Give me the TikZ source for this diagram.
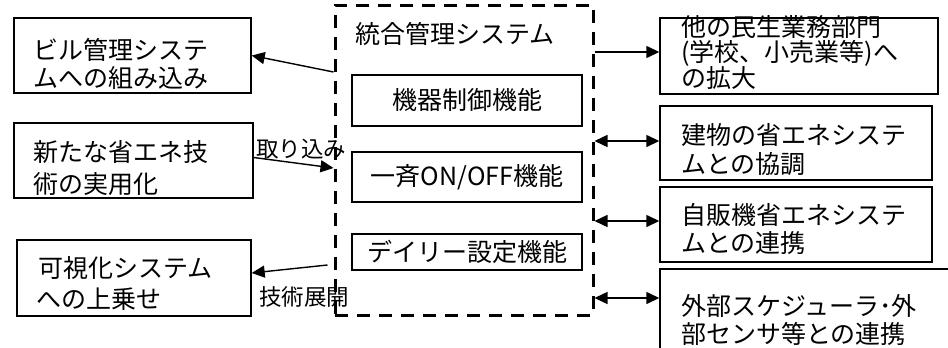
\documentclass[tikz,border=0pt]{standalone}
\usepackage{fontspec}
\setmainfont{Noto Sans CJK JP}
\usetikzlibrary{arrows.meta,calc}
\begin{document}
\begin{tikzpicture}[x=1pt,y=-1pt,
  box/.style={draw,line width=1.4pt,inner sep=0pt,font=\fontsize{25}{27}\selectfont},
  txt/.style={inner sep=0pt,anchor=base west,font=\fontsize{25}{27}\selectfont},
  lbl/.style={inner sep=0pt,anchor=base west,font=\fontsize{22.5}{24}\selectfont},
  sysbox/.style={draw,line width=3pt,dash pattern=on 13pt off 9pt,inner sep=0pt},
  arr/.style={line width=1.4pt,-{Triangle[length=13pt,width=12pt]}},
  darr/.style={line width=1.4pt,{Triangle[length=13pt,width=12pt]}-{Triangle[length=13pt,width=12pt]}}
]
\useasboundingbox (0,0) rectangle (948,348);
\clip (0,0) rectangle (948,348);

% central dashed system box
\node[sysbox,minimum width=258pt,minimum height=310pt] (sys) at (464,160) {};
\node[txt] (systitle) at (355,43.5) {統合管理システム};
\node[box,minimum width=230pt,minimum height=51pt] (m1) at (467,100.5) {機器制御機能};
\node[box,minimum width=230pt,minimum height=50pt] (m2) at (467,177) {一斉ON/OFF機能};
\node[box,minimum width=230pt,minimum height=36pt] (m3) at (467,252) {デイリー設定機能};

% left boxes
\node[box,minimum width=237pt,minimum height=75pt] (b1) at (132.5,55.5) {};
\node[txt] (b1a) at (33,59.5) {ビル管理システ};
\node[txt] (b1b) at (33,87.5) {ムへの組み込み};
\node[box,minimum width=239pt,minimum height=75pt] (b2) at (133.5,160.5) {};
\node[txt] (b2a) at (33,161.5) {新たな省エネ技};
\node[txt] (b2b) at (33,193.5) {術の実用化};
\node[box,minimum width=234pt,minimum height=76pt] (b3) at (134,278) {};
\node[txt] (b3a) at (38,277.5) {可視化システム};
\node[txt] (b3b) at (36,308.5) {への上乗せ};

% right boxes
\node[box,minimum width=278pt,minimum height=76pt] (r1) at (799,56) {};
\node[txt] (r1a) at (681,36.5) {他の民生業務部門};
\node[txt] (r1b) at (681,61.5) {(学校、小売業等)へ};
\node[txt] (r1c) at (681,87.5) {の拡大};
\node[box,minimum width=272pt,minimum height=74pt] (r2) at (796,143) {};
\node[txt] (r2a) at (681,144.5) {建物の省エネシステ};
\node[txt] (r2b) at (681,173.5) {ムとの協調};
\node[box,minimum width=272pt,minimum height=75pt] (r3) at (796,224.5) {};
\node[txt] (r3a) at (681,224.5) {自販機省エネシステ};
\node[txt] (r3b) at (681,252) {ムとの連携};
\node[box,minimum width=320pt,minimum height=111pt] (r4) at (820,324.5) {};
\node[txt] (r4a) at (681,315.5) {外部スケジューラ･外};
\node[txt] (r4b) at (681,343.5) {部センサ等との連携};

% connector anchor points on the dashed box
\coordinate (w1) at (sys.west |- 0,72);
\coordinate (w2) at (sys.west |- 0,168);
\coordinate (w3) at ($(sys.west |- 0,265)+(-6,0)$);
\coordinate (e1) at (sys.east |- 0,52);
\coordinate (e2) at (sys.east |- 0,141);
\coordinate (e3) at (sys.east |- 0,221);
\coordinate (e4) at (sys.east |- 0,298);

% left connectors
\draw[arr] (w1) -- (b1.east);
\draw[arr] ($(b2.east)+(0,-3)$) -- (w2);
\node[lbl] (l1) at (256,157) {取り込み};
\draw[arr] (w3) -- ($(b3.east)+(0,-5)$);
\node[lbl] (l2) at (259,305) {技術展開};

% right connectors
\draw[arr] (e1) -- (e1 -| r1.west);
\draw[darr] (e2) -- (e2 -| r2.west);
\draw[darr] (e3) -- (e3 -| r3.west);
\draw[darr] (e4) -- (e4 -| r4.west);
\end{tikzpicture}
\end{document}
